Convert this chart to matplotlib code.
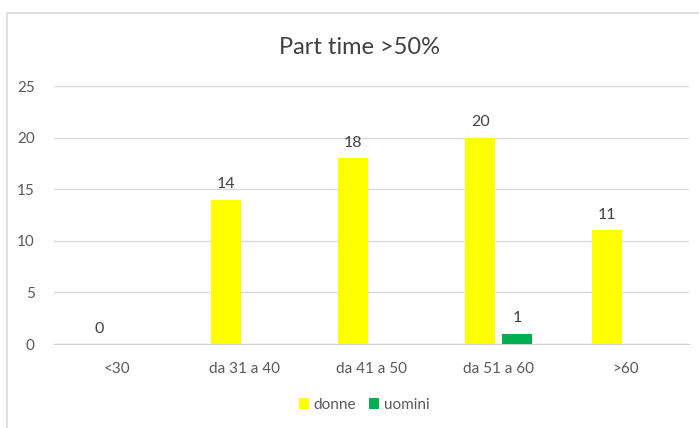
import numpy as np
import matplotlib
matplotlib.use("Agg")
import matplotlib.pyplot as plt

plt.rcParams['font.family'] = ['Lato', 'DejaVu Sans']

# data
categories = ["<30", "da 31 a 40", "da 41 a 50", "da 51 a 60", ">60"]
donne = [0, 14, 18, 20, 11]
uomini = [0, 0, 0, 1, 0]
uomini_labels = ["", "", "", "1", ""]

fig = plt.figure(figsize=(6.99, 4.28), dpi=100)
fig.patch.set_facecolor("white")

# chart border
fig.patches.append(plt.Rectangle((7/699, -0.05), 1.0, 1 - 13/428 + 0.05,
                                 transform=fig.transFigure, fill=False,
                                 edgecolor="#d9d9d9", linewidth=1.2))

ax = fig.add_axes([54/699, 1 - 344/428, (689 - 54)/699, (344 - 86)/428])

x = np.arange(len(categories))
w = 0.23
off = 0.145
b1 = ax.bar(x - off, donne, w, color="#FFFF00", label="donne", zorder=3)
b2 = ax.bar(x + off, uomini, w, color="#00B050", label="uomini", zorder=3)

for xi, v in zip(x - off, donne):
    ax.text(xi, v + 0.8, str(v), ha="center", va="bottom", fontsize=11.5, color="#404040")
for xi, v, lab in zip(x + off, uomini, uomini_labels):
    if lab:
        ax.text(xi, v + 0.8, lab, ha="center", va="bottom", fontsize=11.5, color="#404040")

ax.set_xlim(-0.5, len(categories) - 0.5)
ax.set_ylim(0, 25)
ax.set_yticks([0, 5, 10, 15, 20, 25])
ax.set_xticks(x)
ax.set_xticklabels(categories)
ax.tick_params(axis="both", length=0, labelsize=11, labelcolor="#595959")
ax.tick_params(axis="x", pad=13)
ax.tick_params(axis="y", pad=14)
ax.grid(axis="y", color="#d9d9d9", linewidth=1, zorder=0)
for s in ["top", "right", "left"]:
    ax.spines[s].set_visible(False)
ax.spines["bottom"].set_color("#d0d0d0")

fig.text(0.514, 1 - 48/428, "Part time >50%", ha="center", va="center",
         fontsize=17, color="#404040")

fig.legend(handles=[b1, b2], loc="center", bbox_to_anchor=(364/699, 1 - 405/428),
           ncol=2, frameon=False, fontsize=11, handlelength=0.7, handleheight=0.7,
           handletextpad=0.3, columnspacing=0.8, labelcolor="#595959")

fig.savefig("out.png", dpi=100)
